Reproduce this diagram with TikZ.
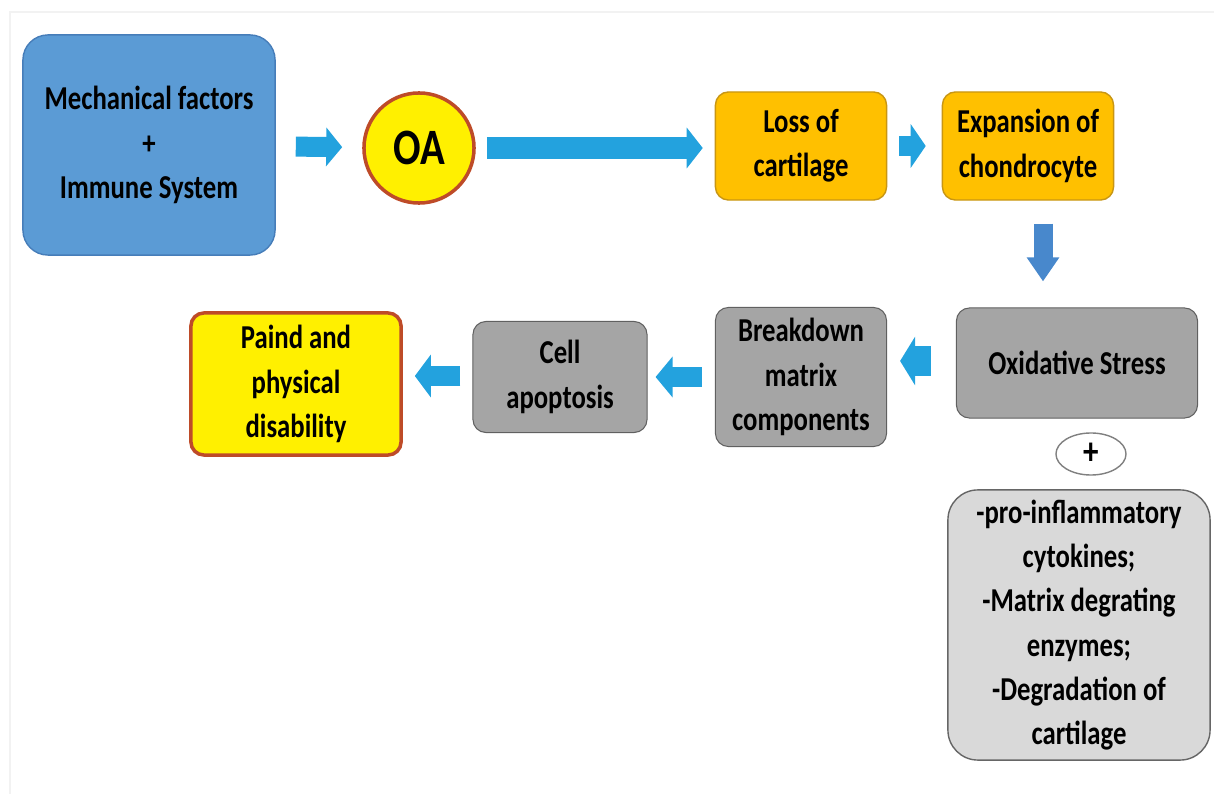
\documentclass[tikz,border=0pt]{standalone}
\usepackage{fontspec}
\setmainfont{Carlito}[FakeStretch=0.8]
\usetikzlibrary{arrows.meta,shapes.geometric}
\definecolor{mechblue}{RGB}{91,155,213}
\definecolor{mechline}{RGB}{70,125,185}
\definecolor{arrowblue}{RGB}{35,162,222}
\definecolor{downblue}{RGB}{72,136,204}
\definecolor{oayellow}{RGB}{255,240,0}
\definecolor{oared}{RGB}{190,75,40}
\definecolor{lossorange}{RGB}{255,192,0}
\definecolor{lossline}{RGB}{200,150,20}
\definecolor{stressgray}{RGB}{165,165,165}
\definecolor{listgray}{RGB}{217,217,217}
\tikzset{
  box/.style={rounded corners=0.13cm, draw, align=center, inner sep=0pt,
    font=\bfseries\fontsize{9.5}{12.6}\selectfont},
  orangebox/.style={box, fill=lossorange, draw=lossline, minimum width=1.71cm, minimum height=1.08cm},
  graybox/.style={box, fill=stressgray, draw=gray!75!black, line width=0.3pt},
  blockarrow/.style={draw=arrowblue, line width=#1},
}
\begin{document}
\begin{tikzpicture}[x=0.01cm,y=-0.01cm]
    \useasboundingbox (0,0) rectangle (1214,794);
    \draw[gray!10, line width=0.6pt] (10,794) -- (10,12) -- (1214,12);

    \node[box, rounded corners=0.25cm, fill=mechblue, draw=mechline, minimum width=2.52cm, minimum height=2.2cm] (mech) at (149,145) {Mechanical factors\\+\\Immune System};
    \node[circle, draw=oared, line width=1pt, fill=oayellow, minimum size=1.1cm, inner sep=0pt, font=\bfseries\fontsize{14.5}{16}\selectfont] (oa) at (419,148) {OA};
    \node[orangebox] (loss) at (801,146) {Loss of\\cartilage};
    \node[orangebox] (expand) at (1028,146) {Expansion of\\chondrocyte};

    \node[graybox, minimum width=2.41cm, minimum height=1.1cm] (stress) at (1077,363) {Oxidative Stress};
    \node[ellipse, draw=gray, line width=0.4pt, fill=white, minimum width=0.7cm, minimum height=0.42cm, inner sep=0pt, font=\bfseries\fontsize{11}{12}\selectfont] (plus) at (1091,454) {+};
    \node[box, rounded corners=0.3cm, fill=listgray, draw=gray!80!black, line width=0.4pt, minimum width=2.62cm, minimum height=2.7cm] (factors) at (1079,625) {-pro-inflammatory\\cytokines;\\-Matrix degrating\\enzymes;\\-Degradation of\\cartilage};
    \node[graybox, minimum width=1.71cm, minimum height=1.39cm] (breakdown) at (801,377) {Breakdown\\matrix\\components};
    \node[graybox, minimum width=1.74cm, minimum height=1.11cm] (apoptosis) at (560,377) {Cell\\apoptosis};
    \node[box, fill=oayellow, draw=oared, line width=1pt, minimum width=2.1cm, minimum height=1.42cm] (pain) at (296,384) {Paind and\\physical\\disability};

    \draw[blockarrow=0.2cm, -{Triangle[width=0.38cm,length=0.16cm]}, shorten <=0.2cm, shorten >=0.2cm] (mech) -- (oa);
    \draw[blockarrow=0.22cm, -{Triangle[width=0.4cm,length=0.16cm]}, shorten <=0.11cm, shorten >=0.12cm] (oa) -- (oa -| loss.west);
    \draw[blockarrow=0.19cm, -{Triangle[width=0.43cm,length=0.15cm]}, shorten <=0.12cm, shorten >=0.16cm] (loss) -- (expand);
    \draw[blockarrow=0.19cm, draw=downblue, -{Triangle[width=0.31cm,length=0.24cm]}, shorten <=0.23cm, shorten >=0.26cm] ([xshift=0.15cm]expand.south) -- ([xshift=0.15cm]expand.south |- stress.north);
    \draw[blockarrow=0.3cm, -{Triangle[width=0.48cm,length=0.15cm]}, shorten <=0.25cm, shorten >=0.13cm] ([yshift=0.02cm]stress.west) -- ([yshift=0.02cm]stress.west -| breakdown.east);
    \draw[blockarrow=0.19cm, -{Triangle[width=0.4cm,length=0.17cm]}, shorten <=0.13cm, shorten >=0.08cm] (breakdown.west) -- (breakdown.west -| apoptosis.east);
    \draw[blockarrow=0.2cm, -{Triangle[width=0.42cm,length=0.16cm]}, shorten <=0.12cm, shorten >=0.12cm] ([yshift=0.01cm]apoptosis.west) -- ([yshift=0.01cm]apoptosis.west -| pain.east);
\end{tikzpicture}
\end{document}
